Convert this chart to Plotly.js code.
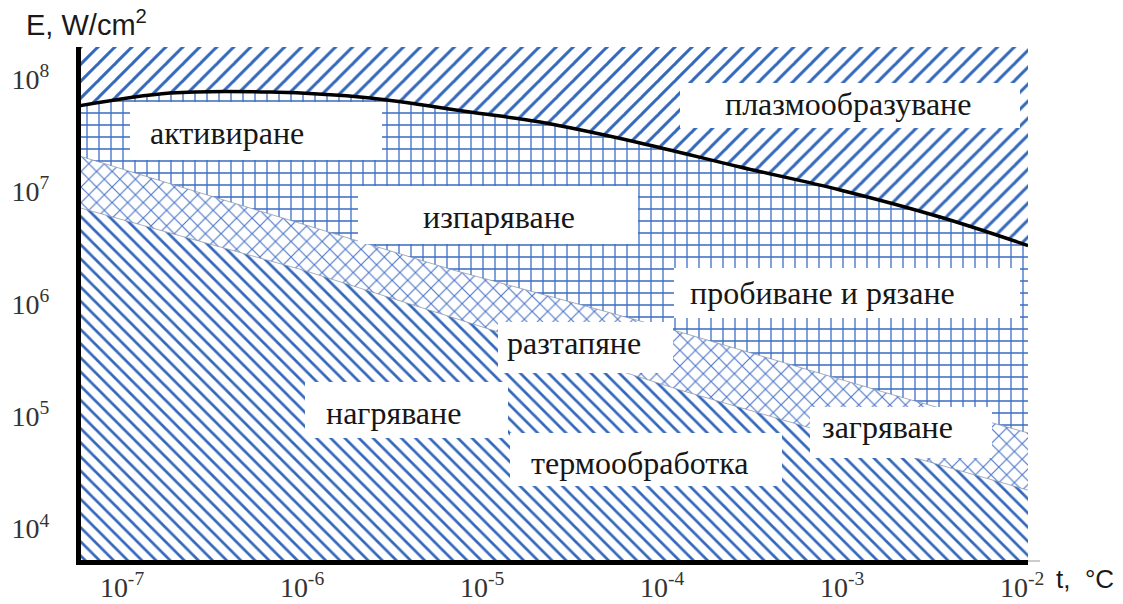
<!DOCTYPE html>
<html>
<head>
<meta charset="utf-8">
<script src="https://cdn.plot.ly/plotly-3.0.1.min.js"></script>
<style>
  html, body { margin: 0; padding: 0; background: #fff; }
  #chart { width: 1123px; height: 604px; }
</style>
</head>
<body>
<div id="chart"></div>
<script>
// Pulse duration t and power density E of the region boundaries
const curveT = [5.9e-8, 1.85e-7, 6.64e-7, 2.39e-6, 8.57e-6, 2.10e-5, 7.55e-5, 2.71e-4, 9.75e-4, 3.50e-3, 1.08e-2];
const curveE = [5.8e7, 7.50e7, 7.66e7, 6.78e7, 5.08e7, 4.14e7, 2.70e7, 1.65e7, 1.03e7, 5.92e6, 3.30e6];

const meltT = [5.9e-8, 6.90e-6, 4.53e-5, 1.26e-4, 1.92e-3, 1.08e-2];
const meltE = [2.05e7, 2.0e6, 8.81e5, 5.61e5, 1.55e5, 7.10e4];

const heatT = [5.9e-8, 1.01e-6, 8.57e-6, 1.26e-4, 6.40e-4, 1.08e-2];
const heatE = [7.11e6, 2.0e6, 6.75e5, 1.71e5, 8.02e4, 2.20e4];

const edgeT = [5.9e-8, 1.08e-2];
const floorE = [1e3, 1e3];
const ceilE = [1e9, 1e9];

const tTicks = [1e-7, 1e-6, 1e-5, 1e-4, 1e-3, 1e-2];
const tLabels = ['10<sup>-7</sup>', '10<sup>-6</sup>', '10<sup>-5</sup>', '10<sup>-4</sup>', '10<sup>-3</sup>', '10<sup>-2</sup>'];
const eTicks = [1e4, 1e5, 1e6, 1e7, 1e8];
const eLabels = ['10<sup>4</sup>', '10<sup>5</sup>', '10<sup>6</sup>', '10<sup>7</sup>', '10<sup>8</sup>'];

const regionNames = ['плазмообразуване', 'активиране', 'изпаряване', 'пробиване и рязане',
                     'разтапяне', 'нагряване', 'термообработка', 'загряване'];
const xTitle = 't,  °C';
const yTitle = 'E, W/cm<sup>2</sup>';

// ---- styling ----
const BLUE = '#3468bb';
const GRID_BLUE = '#3a6cc4';
const XH_BLUE = '#4f78cb';
const SERIF = 'Liberation Serif, Times New Roman, serif';
const SANS = 'Liberation Sans, Arial, sans-serif';

// plot area in page pixels
const PX_L = 81, PX_R = 1028, PX_T = 47, PX_B = 560;
const pX = p => (p - PX_L) / (PX_R - PX_L);
const pY = p => (PX_B - p) / (PX_B - PX_T);

function band(x, y, shape, color, size, solidity, line) {
  return {
    x: x, y: y, type: 'scatter', mode: 'lines',
    line: line || { width: 0, color: 'rgba(0,0,0,0)' },
    fill: 'tonexty', fillcolor: 'white',
    fillpattern: { shape: shape, fgcolor: color, bgcolor: 'white', size: size, solidity: solidity },
    hoverinfo: 'skip'
  };
}

const thinEdge = { width: 1, color: 'rgba(130,140,165,0.7)' };

const traces = [
  { x: edgeT, y: floorE, type: 'scatter', mode: 'lines', line: { width: 0 }, hoverinfo: 'skip' },
  band(heatT, heatE, '\\', BLUE, 10, 0.27, thinEdge),
  band(meltT, meltE, 'x', XH_BLUE, 11, 0.2, thinEdge),
  band(curveT, curveE, '+', GRID_BLUE, 12, 0.2),
  band(edgeT, ceilE, '/', BLUE, 12, 0.25),
  { x: curveT, y: curveE, type: 'scatter', mode: 'lines', line: { color: '#000', width: 3.5, shape: 'spline' }, hoverinfo: 'skip' }
];

// white label boxes [x0, x1, y0, y1] and text centres [cx, cy], page pixels
const boxes = [
  [680, 1020, 83, 128], [130, 382, 102, 160], [358, 638, 186, 244], [674, 1020, 268, 318],
  [498, 673, 322, 373], [305, 508, 382, 438], [510, 782, 433, 486], [810, 992, 407, 458]
];
const centres = [
  [848, 104], [227, 133], [499, 217], [822, 293],
  [574, 343], [393, 413], [640, 463], [887, 427]
];

const shapes = boxes.map(b => ({
  type: 'rect', xref: 'paper', yref: 'paper', layer: 'above',
  x0: pX(b[0]), x1: pX(b[1]), y0: pY(b[3]), y1: pY(b[2]),
  fillcolor: 'white', line: { width: 0 }
}));
shapes.push({
  type: 'line', xref: 'paper', yref: 'paper', layer: 'above',
  x0: 1, x1: pX(1040), y0: pY(PX_B + 1), y1: pY(PX_B + 1),
  line: { color: '#9a9a9a', width: 1 }
});

const annotations = regionNames.map((name, i) => ({
  text: name, xref: 'paper', yref: 'paper',
  x: pX(centres[i][0]), y: pY(centres[i][1]),
  xanchor: 'center', yanchor: 'middle', showarrow: false,
  font: { family: SERIF, size: 32, color: '#161616' }
}));
annotations.push({
  text: yTitle, xref: 'paper', yref: 'paper', x: pX(24), y: pY(23),
  xanchor: 'left', yanchor: 'middle', showarrow: false,
  font: { family: SANS, size: 29, color: '#1a1a1a' }
});
annotations.push({
  text: xTitle, xref: 'paper', yref: 'paper', x: pX(1054), y: pY(579),
  xanchor: 'left', yanchor: 'middle', showarrow: false,
  font: { family: SANS, size: 26, color: '#1a1a1a' }
});

const axisCommon = {
  type: 'log', showgrid: false, zeroline: false,
  showline: true, linecolor: '#000', linewidth: 5, ticks: '',
  tickfont: { family: SERIF, size: 28, color: '#333' }
};

const layout = {
  width: 1123, height: 604,
  margin: { l: PX_L, r: 1123 - PX_R, t: PX_T, b: 604 - PX_B },
  paper_bgcolor: 'white', plot_bgcolor: 'white',
  showlegend: false,
  xaxis: Object.assign({}, axisCommon, {
    range: [-7.228, -1.967], tickvals: tTicks, ticktext: tLabels, ticklabelstandoff: -2
  }),
  yaxis: Object.assign({}, axisCommon, {
    range: [3.721, 8.285], tickvals: eTicks, ticktext: eLabels, ticklabelstandoff: 21
  }),
  shapes: shapes,
  annotations: annotations
};

Plotly.newPlot('chart', traces, layout, { displayModeBar: false, staticPlot: true });
</script>
</body>
</html>
